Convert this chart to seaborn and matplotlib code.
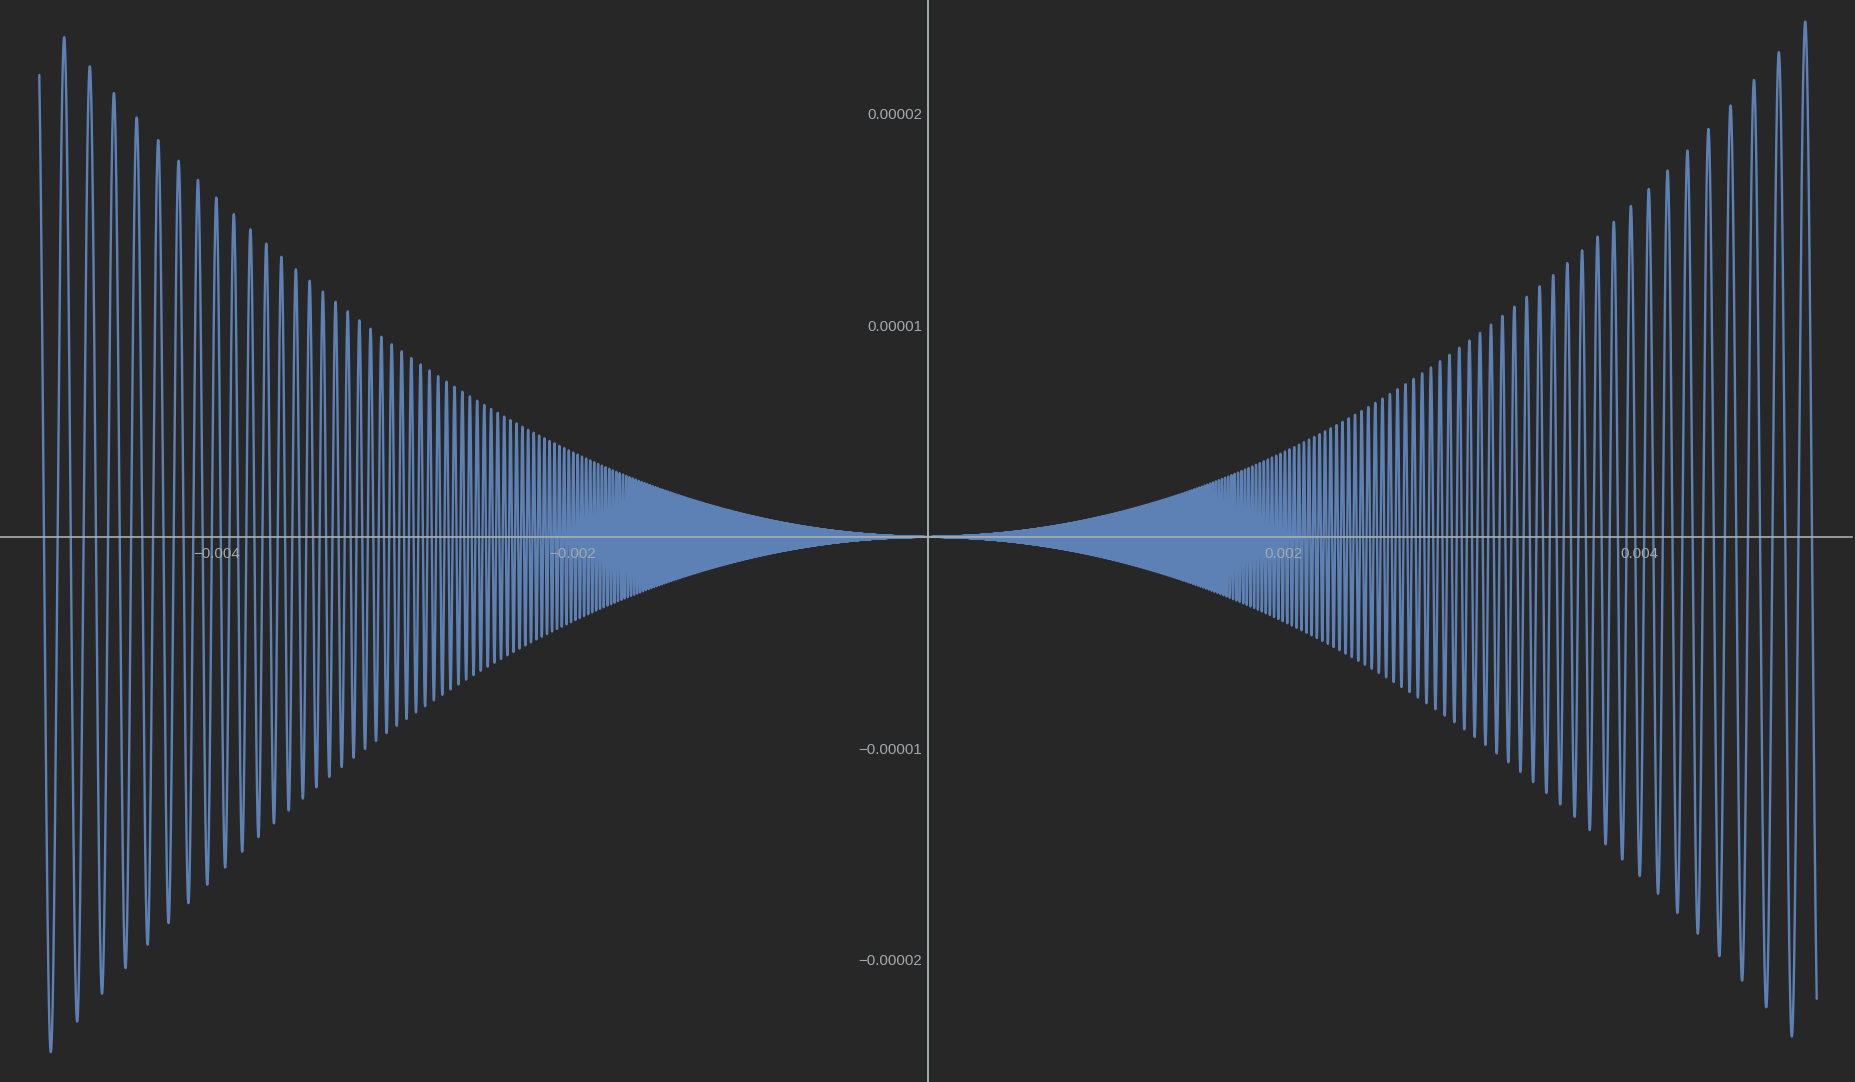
import numpy as np
import pandas as pd
import matplotlib
matplotlib.use("Agg")
import matplotlib.pyplot as plt
import seaborn as sns

# curve plotted in the reference: y = x^2 * sin(1/x) on [-0.005, 0.005]
x_start = -0.005
x_end = 0.005
n_samples = 400000

x_major = [-0.004, -0.002, 0.002, 0.004]
x_labels = ["\u22120.004", "\u22120.002", "0.002", "0.004"]
y_major = [0.00002, 0.00001, -0.00001, -0.00002]
y_labels = ["0.00002", "0.00001", "\u22120.00001", "\u22120.00002"]

x = np.linspace(x_start, x_end, n_samples)
y = x ** 2 * np.sin(1.0 / x)
df = pd.DataFrame({"x": x, "y": y})

bg = "#272727"
line_col = "#5e81b5"
axis_col = "#b4c2c2"
text_col = "#a3aaad"

sns.set_theme(style="dark")
plt.rcParams["font.family"] = ["Liberation Sans", "DejaVu Sans"]

fig = plt.figure(figsize=(18.56, 10.82), dpi=100, facecolor=bg)
ax = fig.add_axes([0, 0, 1, 1])
ax.set_facecolor(bg)

sns.lineplot(data=df, x="x", y="y", estimator=None, errorbar=None, sort=False,
             color=line_col, linewidth=1.7, ax=ax)

ax.set_xlim(-0.005221, 0.005221)
ax.set_ylim(-2.577e-5, 2.5376e-5)
ax.set_axisbelow(False)  # tick labels drawn over the curve, like the original

for side in ["top", "right"]:
    ax.spines[side].set_visible(False)
for side in ["left", "bottom"]:
    ax.spines[side].set_position(("data", 0))
    ax.spines[side].set_color(axis_col)
    ax.spines[side].set_linewidth(1.2)
    ax.spines[side].set_zorder(3)
ax.spines["bottom"].set_color("#a9b1b1")
ax.spines["bottom"].set_bounds(-0.005221, 0.0052)

ax.set_xticks(x_major)
ax.set_xticklabels(x_labels)
ax.set_yticks(y_major)
ax.set_yticklabels(y_labels)
ax.set_xticks(np.arange(-0.005, 0.00501, 0.0005), minor=True)
ax.set_yticks(np.arange(-0.000024, 0.0000241, 0.000002), minor=True)

ax.tick_params(which="major", direction="in", length=4, width=1, color="#8c9494",
               labelcolor=text_col, labelsize=10.8)
ax.tick_params(which="minor", direction="in", length=2.5, width=0.8, color="#6f7575")
ax.tick_params(axis="x", which="major", pad=7)
ax.tick_params(axis="y", which="major", pad=4)
ax.grid(False)
ax.set_xlabel("")
ax.set_ylabel("")

fig.savefig("out.png", dpi=100, facecolor=bg)
